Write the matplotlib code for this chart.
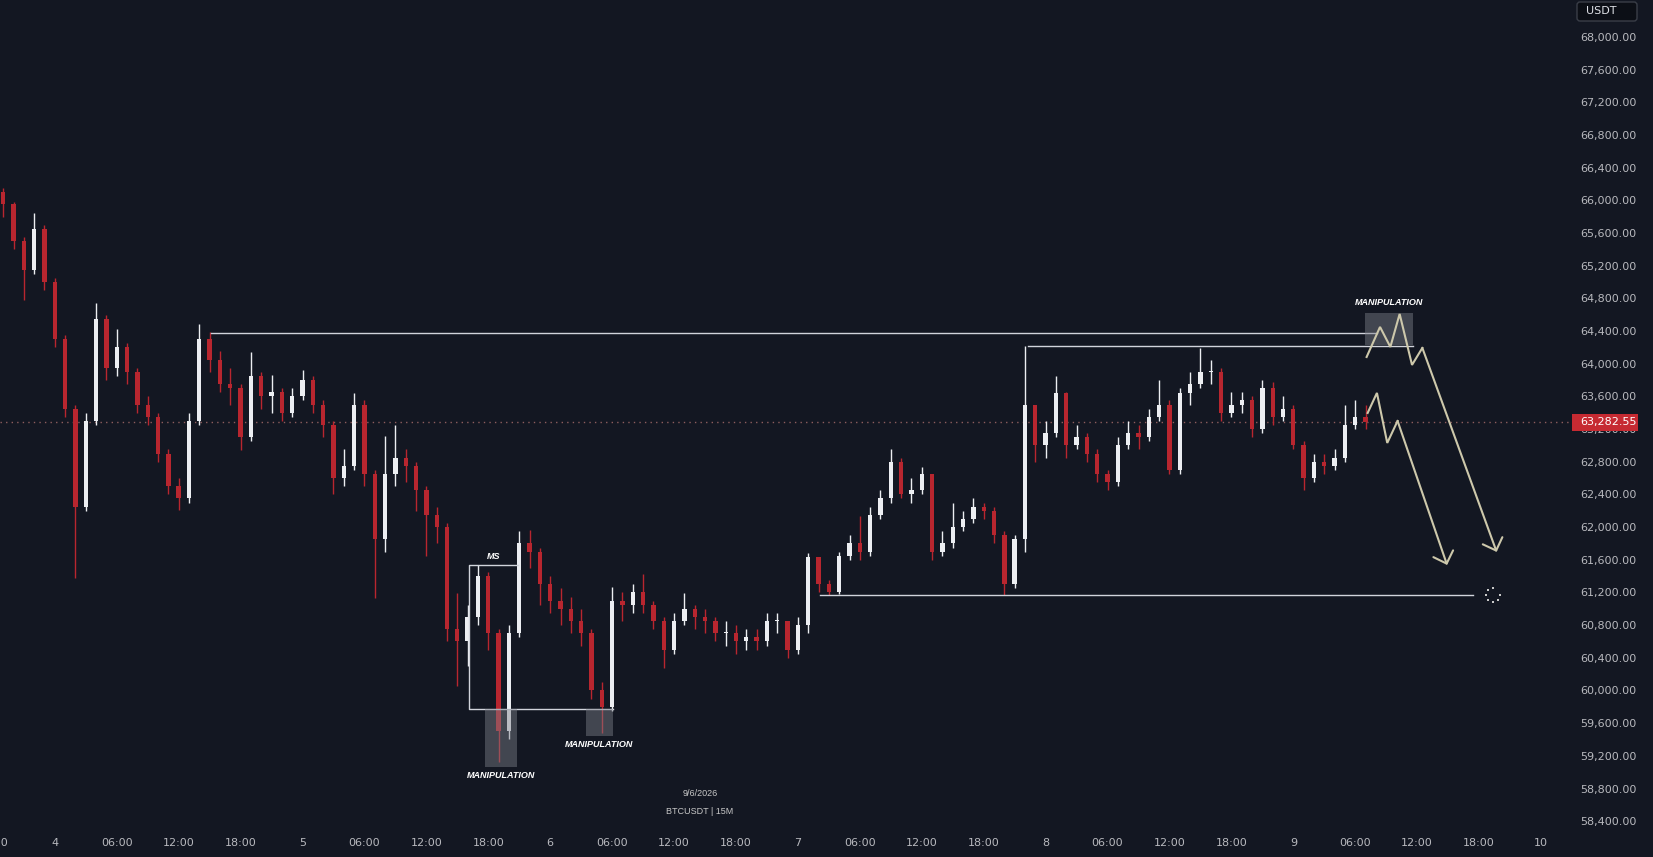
import numpy as np
import matplotlib
matplotlib.use("Agg")
import matplotlib.pyplot as plt
from matplotlib.patches import Rectangle, FancyBboxPatch
from matplotlib.transforms import blended_transform_factory, IdentityTransform

# hourly candles, x = hours counted from day 4 00:00
first_hour = -5
first_open = 66100
closes = [65950, 65500, 65150, 65650, 65000, 64300, 63450, 62250, 63300, 64550,
          63950, 64200, 63900, 63500, 63350, 62900, 62500, 62350, 63300, 64300,
          64050, 63750, 63700, 63100, 63850, 63600, 63650, 63400, 63600, 63800,
          63500, 63250, 62600, 62750, 63500, 62650, 61850, 62650, 62850, 62750,
          62450, 62150, 62000, 60750, 60600, 60900, 61400, 60700, 59500, 60700,
          61800, 61700, 61300, 61100, 61000, 60850, 60700, 60000, 59800, 61100,
          61050, 61200, 61050, 60850, 60500, 60850, 61000, 60900, 60850, 60700,
          60700, 60600, 60650, 60600, 60850, 60850, 60500, 60800, 61630, 61300,
          61200, 61650, 61800, 61700, 62150, 62350, 62800, 62400, 62450, 62650,
          61700, 61800, 62000, 62100, 62250, 62200, 61900, 61300, 61850, 63500,
          63000, 63150, 63640, 63000, 63100, 62900, 62650, 62550, 63000, 63150,
          63100, 63350, 63500, 62700, 63640, 63750, 63900, 63900, 63400, 63500,
          63550, 63200, 63700, 63350, 63450, 63000, 62600, 62800, 62750, 62850,
          63250, 63350, 63282.55]
highs = [66150, 65980, 65550, 65850, 65700, 65050, 64350, 63500, 63400, 64740,
         64600, 64420, 64250, 63950, 63600, 63400, 62950, 62600, 63400, 64480,
         64390, 64150, 63950, 63750, 64140, 63900, 63860, 63700, 63700, 63920,
         63850, 63550, 63300, 62950, 63640, 63550, 62700, 63110, 63250, 62950,
         62800, 62500, 62250, 62050, 61190, 61050, 61535, 61450, 60750, 60800,
         61950, 61960, 61750, 61400, 61250, 61150, 61000, 60750, 60100, 61265,
         61200, 61300, 61420, 61100, 60900, 60950, 61190, 61050, 61000, 60900,
         60850, 60800, 60750, 60750, 60950, 60950, 60850, 60900, 61680, 61500,
         61350, 61700, 61900, 62130, 62250, 62450, 62950, 62850, 62600, 62735,
         62650, 61950, 62300, 62200, 62350, 62300, 62250, 61950, 61900, 64220,
         63440, 63300, 63845, 63650, 63250, 63150, 62950, 62700, 63100, 63300,
         63250, 63450, 63800, 63550, 63700, 63900, 64190, 64050, 63950, 63650,
         63650, 63600, 63800, 63780, 63600, 63500, 63050, 62900, 62900, 62950,
         63500, 63560, 63500]
lows = [65800, 65400, 64780, 65100, 64900, 64200, 63350, 61380, 62200, 63250,
        63800, 63850, 63750, 63400, 63250, 62800, 62400, 62210, 62300, 63250,
        63900, 63650, 63500, 62940, 63050, 63450, 63400, 63300, 63350, 63550,
        63400, 63100, 62400, 62500, 62700, 62500, 61135, 61700, 62500, 62550,
        62200, 61640, 61800, 60600, 60050, 60300, 60800, 60500, 59120, 59400,
        60650, 61500, 61050, 60950, 60800, 60700, 60550, 59900, 59480, 59750,
        60850, 60950, 60950, 60750, 60270, 60450, 60800, 60750, 60700, 60600,
        60550, 60450, 60500, 60500, 60550, 60700, 60400, 60450, 60700, 61200,
        61165, 61180, 61600, 61600, 61650, 62100, 62300, 62350, 62300, 62400,
        61600, 61650, 61750, 61950, 62050, 62100, 61800, 61165, 61250, 61700,
        62800, 62850, 63100, 62850, 62950, 62800, 62550, 62460, 62500, 62950,
        62950, 63050, 63300, 62650, 62650, 63500, 63700, 63750, 63300, 63350,
        63400, 63100, 63150, 63250, 63300, 62950, 62450, 62550, 62650, 62700,
        62800, 63200, 63200]

last_price = 63282.55

y_ticks = list(range(58400, 68001, 400))
x_tick_hours = list(range(-6, 145, 6))
x_tick_labels = ["18:00", "4", "06:00", "12:00", "18:00", "5", "06:00", "12:00", "18:00",
                 "6", "06:00", "12:00", "18:00", "7", "06:00", "12:00", "18:00",
                 "8", "06:00", "12:00", "18:00", "9", "06:00", "12:00", "18:00", "10"]

# drawn levels: (price, start hour, end hour)
levels = [(64380, 15.1, 128.1), (64220, 94.3, 131.6), (61169, 74.1, 137.4)]
# market structure box
ms_left, ms_right, ms_ext = 40.1, 44.85, 54.1
ms_top, ms_bottom = 61536, 59770
# shaded manipulation zones: (h0, h1, p0, p1)
manip_boxes = [(41.7, 44.75, 59067, 59770), (51.45, 54.05, 59443, 59770),
               (126.9, 131.6, 64230, 64620)]
manip_labels = [(43.2, 58957), (52.75, 59341), (129.3, 64743)]
# projected paths
path1_h = [127.1, 128.4, 129.4, 130.3, 131.5, 132.5, 139.7]
path1_p = [64082, 64450, 64205, 64609, 63985, 64193, 61696]
path2_h = [127.2, 128.1, 129.1, 130.1, 134.9]
path2_p = [63397, 63642, 63030, 63299, 61536]

BG = "#131722"
UP = "#eceef2"
DOWN = "#b8262f"
TXT = "#b8b9be"
LINE = "#d1d4dc"
PATH = "#cdc8ab"

fig = plt.figure(figsize=(16.53, 8.57), dpi=100, facecolor=BG)
ax = fig.add_axes([0, 27 / 857, 1572 / 1653, 830 / 857])
ax.set_facecolor(BG)
for s in ax.spines.values():
    s.set_visible(False)
ax.set_xlim(-5.31, 147.0)
ax.set_ylim(58292, 68452)

# candles
hours = np.arange(first_hour, first_hour + len(closes))
c = np.array(closes, dtype=float)
o = np.concatenate([[first_open], c[:-1]])
hi = np.maximum(np.array(highs, dtype=float), np.maximum(o, c))
lo = np.minimum(np.array(lows, dtype=float), np.minimum(o, c))
up = c >= o
cols = np.where(up, UP, DOWN)
ax.vlines(hours, lo, hi, colors=cols, linewidth=1, zorder=3)
body_lo = np.minimum(o, c)
body_h = np.maximum(np.abs(c - o), 15)
ax.bar(hours, body_h, bottom=body_lo, width=0.42, color=cols, linewidth=0, zorder=4)

# last price line
ax.axhline(last_price, color="#8e5e5e", linestyle=(0, (1, 3)), linewidth=1, zorder=2)

# levels
for p, h0, h1 in levels:
    ax.plot([h0, h1], [p, p], color=LINE, linewidth=1, zorder=5)

ax.plot([ms_right, ms_left, ms_left, ms_ext], [ms_top, ms_top, ms_bottom, ms_bottom],
        color=LINE, linewidth=1, zorder=5)
ax.text((ms_left + ms_right) / 2, 61646, "MS", color="white", fontsize=6.5,
        family="Liberation Sans", fontweight="bold", fontstyle="italic",
        ha="center", va="center", zorder=6)

for h0, h1, p0, p1 in manip_boxes:
    ax.add_patch(Rectangle((h0, p0), h1 - h0, p1 - p0, facecolor="#7d808a",
                           alpha=0.45, edgecolor="none", zorder=6))
for h, p in manip_labels:
    ax.text(h, p, "MANIPULATION", color="white", fontsize=6.5, family="Liberation Sans",
            fontweight="bold", fontstyle="italic", ha="center", va="center", zorder=7)

# projected paths with open arrow heads
for ph, pp in [(path1_h, path1_p), (path2_h, path2_p)]:
    ax.plot(ph[:-1], pp[:-1], color=PATH, linewidth=1.5, zorder=7, solid_joinstyle="miter")
    ax.annotate("", xy=(ph[-1], pp[-1]), xytext=(ph[-2], pp[-2]),
                arrowprops=dict(arrowstyle="->,head_length=0.75,head_width=0.75",
                                color=PATH, lw=1.5, shrinkA=0, shrinkB=0,
                                mutation_scale=10), zorder=7)

# cursor ring at the end of the support line
ang = np.deg2rad([90, 0, -45, -90, -135, 180, 135])
r_px = 7.3
ax.scatter(139.33 + r_px / 10.322 * np.cos(ang), 61169 + r_px / 0.0817 * np.sin(ang),
           s=3, marker="s", color="#c9c9c9", linewidths=0, zorder=8)

# axes labels
ax.yaxis.tick_right()
ax.set_yticks(y_ticks)
ax.set_yticklabels([f"{v:,.2f}" for v in y_ticks])
ax.tick_params(axis="y", length=0, pad=6, labelsize=8, labelcolor=TXT)
ax.set_xticks([])
xt = blended_transform_factory(ax.transData, fig.transFigure)
for h, lab in zip(x_tick_hours, x_tick_labels):
    ax.text(h, 1 - 843 / 857, lab, transform=xt, ha="center", va="center",
            fontsize=8, color=TXT, clip_on=False)

# last price tag
bt = blended_transform_factory(ax.transAxes, ax.transData)
ax.add_patch(Rectangle((1.0, last_price - 104), 66 / 1572, 208, transform=bt,
                       facecolor="#c62a32", edgecolor="none", clip_on=False, zorder=10))
ax.text(1.0 + 8 / 1572, last_price, f"{last_price:,.2f}", transform=bt, ha="left",
        va="center", fontsize=8, color="white", clip_on=False, zorder=11)

# currency box
fig.add_artist(FancyBboxPatch((1577, 857 - 21), 60, 19, boxstyle="round,pad=0,rounding_size=3",
                              transform=IdentityTransform(), facecolor="#0c0f16",
                              edgecolor="#3a3e48", linewidth=1))
fig.text(1586 / 1653, 1 - 11 / 857, "USDT", ha="left", va="center", fontsize=8,
         color="#e0e2e8")

fig.text(700 / 1653, 1 - 794 / 857, "9/6/2026", ha="center", va="center",
         fontsize=6.5, color="#c8c8c8", family="Liberation Sans")
fig.text(700 / 1653, 1 - 812 / 857, "BTCUSDT | 15M", ha="center", va="center",
         fontsize=6.5, color="#c8c8c8", family="Liberation Sans")

fig.savefig("out.png", facecolor=BG)
